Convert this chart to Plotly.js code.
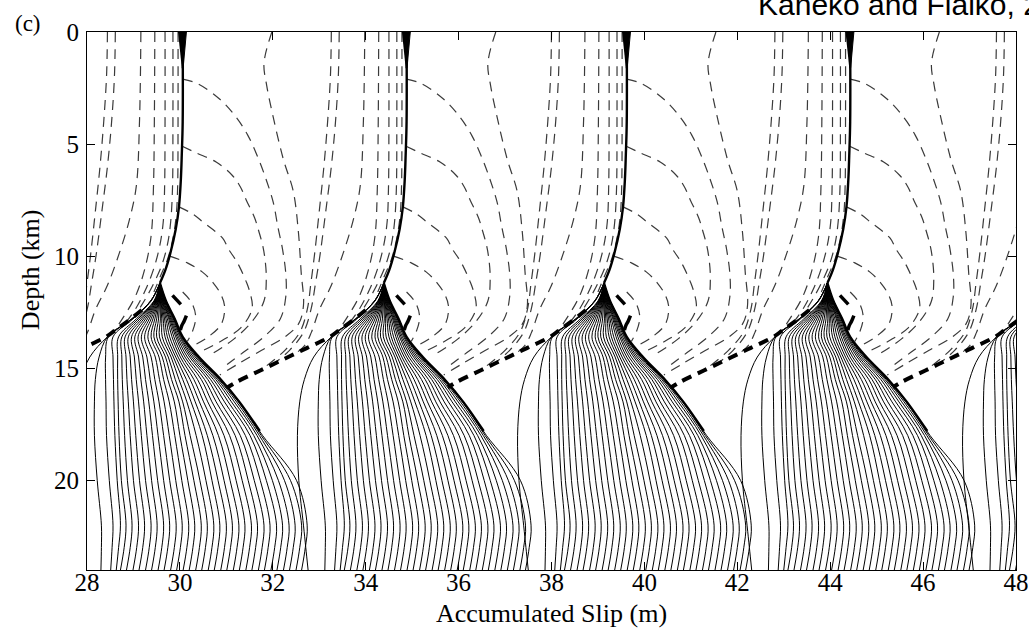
<!DOCTYPE html>
<html><head><meta charset="utf-8">
<script src="https://cdn.plot.ly/plotly-3.0.1.min.js"></script>
<style>html,body{margin:0;padding:0;background:#fff}#chart{width:1029px;height:639px}</style>
</head><body><div id="chart"></div>
<script>
// ---------- data ----------
// surface slip reached by each earthquake (m)
const eqSurfaceSlip = [25.25, 30.06, 34.88, 39.62, 44.43, 49.20];

// interseismic profiles (solid): slip relative to the preceding earthquake's surface slip, per depth
const fanDepthKm = [11.2, 12.0, 12.8, 13.6, 14.5, 15.5, 16.5, 18.0, 20.0, 22.0, 23.0, 24.0];
const fanSlipAt11_2 = [-0.49,-0.49,-0.49,-0.49,-0.49,-0.49,-0.49,-0.49,-0.49,-0.49,-0.49,-0.49,-0.49,-0.49,-0.49,-0.49,-0.49,-0.49,-0.49,-0.49,-0.49,-0.49,-0.49,-0.49,-0.49,-0.49,-0.49,-0.49,-0.49,-0.49,-0.49,-0.49,-0.49,-0.49];
const fanSlipAt12_0 = [-0.69,-0.69,-0.69,-0.68,-0.62,-0.61,-0.60,-0.59,-0.58,-0.57,-0.56,-0.55,-0.54,-0.53,-0.52,-0.51,-0.50,-0.49,-0.48,-0.47,-0.46,-0.45,-0.44,-0.43,-0.42,-0.41,-0.40,-0.39,-0.38,-0.37,-0.37,-0.36,-0.36,-0.36];
const fanSlipAt12_8 = [-1.10,-1.10,-1.09,-1.07,-1.00,-0.96,-0.92,-0.88,-0.84,-0.80,-0.76,-0.72,-0.68,-0.64,-0.60,-0.56,-0.52,-0.48,-0.45,-0.42,-0.39,-0.36,-0.33,-0.30,-0.28,-0.26,-0.24,-0.22,-0.20,-0.19,-0.18,-0.17,-0.17,-0.17];
const fanSlipAt13_6 = [-1.62,-1.62,-1.60,-1.50,-1.38,-1.31,-1.24,-1.17,-1.10,-1.03,-0.96,-0.89,-0.82,-0.75,-0.68,-0.62,-0.56,-0.50,-0.44,-0.38,-0.33,-0.28,-0.23,-0.19,-0.15,-0.12,-0.09,-0.06,-0.04,-0.02,-0.01,0.00,0.00,0.00];
const fanSlipAt14_5 = [-2.00,-1.80,-1.66,-1.50,-1.40,-1.31,-1.22,-1.13,-1.04,-0.95,-0.86,-0.77,-0.68,-0.59,-0.51,-0.44,-0.37,-0.31,-0.25,-0.20,-0.15,-0.10,-0.05,0.00,0.05,0.10,0.15,0.19,0.23,0.27,0.30,0.32,0.34,0.35];
const fanSlipAt15_5 = [-2.20,-1.88,-1.66,-1.49,-1.40,-1.30,-1.20,-1.10,-1.00,-0.90,-0.80,-0.70,-0.60,-0.50,-0.41,-0.32,-0.24,-0.16,-0.08,0.00,0.08,0.16,0.24,0.32,0.40,0.47,0.54,0.60,0.66,0.71,0.75,0.78,0.80,0.82];
const fanSlipAt16_5 = [-2.30,-1.90,-1.65,-1.48,-1.39,-1.28,-1.17,-1.06,-0.95,-0.84,-0.73,-0.62,-0.51,-0.40,-0.29,-0.18,-0.08,0.00,0.09,0.18,0.27,0.36,0.45,0.54,0.63,0.72,0.81,0.90,0.98,1.05,1.11,1.16,1.20,1.22];
const fanSlipAt18_0 = [-2.35,-1.90,-1.64,-1.46,-1.37,-1.25,-1.13,-1.01,-0.89,-0.77,-0.65,-0.53,-0.41,-0.29,-0.17,-0.06,0.05,0.16,0.29,0.42,0.53,0.65,0.77,0.89,1.01,1.13,1.24,1.35,1.45,1.53,1.60,1.65,1.69,1.72];
const fanSlipAt20_0 = [-2.32,-1.84,-1.58,-1.41,-1.32,-1.19,-1.06,-0.93,-0.80,-0.67,-0.54,-0.41,-0.28,-0.15,-0.02,0.11,0.24,0.37,0.50,0.63,0.76,0.89,1.02,1.15,1.28,1.41,1.54,1.67,1.80,1.93,2.06,2.19,2.32,2.45];
const fanSlipAt22_0 = [-2.22,-1.75,-1.50,-1.34,-1.22,-1.09,-0.95,-0.82,-0.68,-0.55,-0.41,-0.28,-0.14,-0.01,0.13,0.26,0.40,0.53,0.67,0.80,0.94,1.07,1.21,1.34,1.48,1.61,1.75,1.88,2.02,2.15,2.29,2.42,2.56,2.68];
const fanSlipAt23_0 = [-2.17,-1.75,-1.52,-1.38,-1.26,-1.13,-0.99,-0.86,-0.72,-0.59,-0.45,-0.32,-0.18,-0.05,0.09,0.22,0.36,0.49,0.63,0.76,0.90,1.03,1.17,1.30,1.44,1.57,1.71,1.84,1.98,2.11,2.25,2.38,2.52,2.64];
const fanSlipAt24_0 = [-2.12,-1.76,-1.55,-1.43,-1.34,-1.21,-1.07,-0.94,-0.80,-0.67,-0.53,-0.40,-0.26,-0.13,0.01,0.14,0.28,0.41,0.55,0.68,0.82,0.95,1.09,1.22,1.36,1.49,1.63,1.76,1.90,2.03,2.17,2.30,2.44,2.56];

// locked shallow profile (thick solid), relative to surface slip
const lockedDepth = [0, 4, 5.5, 6.6, 7.8, 8.8, 9.9, 10.6, 11.2];
const lockedSlip  = [0, 0, -0.02, -0.04, -0.08, -0.15, -0.27, -0.37, -0.49];
const wedgeDepth = [0, 0, 1.6, 1.6];
const wedgeSlip  = [-0.10, 0.08, 0.01, -0.02];
// bold edge of the interseismic fan
const edgeDepth = [11.2, 12.0, 12.8, 13.6, 14.5, 15.5, 16.5, 17.8];
const edgeSlip  = [-0.49, -0.36, -0.17, 0.00, 0.35, 0.82, 1.22, 1.66];

// coseismic profiles (dashed). Early arcs: relative to slip before the event
const arc1Depth = [2.1, 2.3, 3.0, 3.8, 4.6, 5.6, 6.6, 7.6, 8.7, 9.7, 10.8, 11.8, 12.8, 13.6, 14.3, 15.0];
const arc1Slip  = [0.0, 0.32, 0.80, 1.15, 1.40, 1.62, 1.80, 1.95, 2.05, 2.15, 2.22, 2.22, 2.10, 1.75, 1.30, 0.85];
const arc2Depth = [5.1, 5.4, 5.8, 6.4, 6.9, 7.5, 8.3, 8.9, 9.5, 10.1, 11.0, 12.0, 12.9, 13.7, 14.4];
const arc2Slip  = [-0.01, 0.30, 0.72, 1.07, 1.24, 1.37, 1.55, 1.64, 1.72, 1.77, 1.80, 1.75, 1.50, 1.10, 0.60];
const arc3Depth = [7.8, 8.1, 8.5, 9.2, 9.7, 10.1, 10.5, 11.2, 11.7, 12.2, 12.6, 13.2, 13.7, 14.2];
const arc3Slip  = [-0.08, 0.20, 0.45, 0.86, 0.99, 1.12, 1.23, 1.38, 1.46, 1.50, 1.45, 1.25, 0.90, 0.45];
const arc4Depth = [10.0, 10.3, 10.7, 11.2, 11.7, 12.2, 13.0, 13.6, 14.0];
const arc4Slip  = [-0.28, 0.10, 0.42, 0.66, 0.82, 0.90, 0.84, 0.55, 0.22];
const breakDepth = [0, 1.4, 2.4, 3.9, 5.7, 7.1, 8.9, 10.7, 12.2, 13.0, 13.6, 14.2, 14.8, 15.3];
const breakSlip  = [1.92, 1.75, 1.81, 1.96, 2.17, 2.38, 2.49, 2.55, 2.60, 2.50, 2.20, 1.70, 1.20, 0.80];
const nucDepth = [11.6, 12.1, 12.7, 13.3, 13.8];
const nucSlip  = [0.00, 0.20, 0.28, 0.22, 0.10];
// late coseismic profiles: relative to slip after the event
const late1Depth = [0, 2, 4, 6, 8, 9.9, 11.2, 12.4, 13.4, 14.2, 14.9];
const late1Slip  = [-1.62, -1.64, -1.70, -1.78, -1.88, -1.98, -2.06, -2.14, -2.30, -2.62, -3.02];
const late2Slip  = [-1.45, -1.47, -1.53, -1.62, -1.74, -1.86, -1.96, -2.06, -2.22, -2.52, -2.92];
const late3Depth = [0, 4, 6.9, 8.4, 9.9, 11.3, 12.4, 13.4, 14.0, 14.5];
const late3Slip  = [-0.90, -0.93, -1.00, -1.15, -1.37, -1.62, -1.88, -2.05, -2.20, -2.50];
const late4Depth = [0, 4, 7, 9.1, 10.6, 11.8, 12.8, 13.4];
const late4Slip  = [-0.60, -0.61, -0.63, -0.68, -0.82, -1.02, -1.30, -1.50];
const late5Depth = [0, 4, 7, 8.5, 9.6, 10.6, 11.5, 12.3, 12.9];
const late5Slip  = [-0.38, -0.38, -0.39, -0.42, -0.50, -0.63, -0.80, -1.00, -1.20];
const late6Depth = [0, 4, 7, 8.5, 9.5, 10.4, 11.2, 11.9, 12.5];
const late6Slip  = [-0.21, -0.21, -0.22, -0.26, -0.33, -0.45, -0.62, -0.80, -0.98];
const late7Depth = [0, 4, 7, 8.2, 9.2, 10.1, 10.9, 11.6];
const late7Slip  = [-0.10, -0.10, -0.11, -0.14, -0.21, -0.32, -0.48, -0.62];
// final coseismic profile at the base of the rupture (thick dashed)
const baseDepth = [12.4, 12.9, 13.3, 13.6, 14.1, 14.6, 15.1, 15.6, 15.85];
const baseSlip  = [-0.88, -1.18, -1.45, -1.65, -2.15, -2.65, -3.15, -3.65, -3.85];
// nucleation blobs (thick short marks), relative to slip before the event
const blob1Depth = [11.75, 11.95, 12.15];
const blob1Slip  = [-0.22, -0.13, -0.04];
const blob2Depth = [12.65, 12.9, 13.1, 13.3];
const blob2Slip  = [0.08, 0.03, -0.02, -0.05];

// ---------- build traces ----------
function push(xs, ys, rel, depth, off) {
  for (let i = 0; i < rel.length; i++) { xs.push(rel[i] + off); ys.push(depth[i]); }
  xs.push(null); ys.push(null);
}
const fanRows = [fanSlipAt11_2, fanSlipAt12_0, fanSlipAt12_8, fanSlipAt13_6, fanSlipAt14_5, fanSlipAt15_5,
                 fanSlipAt16_5, fanSlipAt18_0, fanSlipAt20_0, fanSlipAt22_0, fanSlipAt23_0, fanSlipAt24_0];
const fx = [], fy = [], ex = [], ey = [], lx = [], ly = [];
const dx = [], dy = [], bx = [], by = [], nx = [], ny = [];
eqSurfaceSlip.forEach(S => {
  for (let j = 0; j < fanSlipAt24_0.length; j++) push(fx, fy, fanRows.map(r => r[j]), fanDepthKm, S);
  push(ex, ey, edgeSlip, edgeDepth, S);
  push(lx, ly, lockedSlip, lockedDepth, S);
  push(nx, ny, blob1Slip, blob1Depth, S);
  push(nx, ny, blob2Slip, blob2Depth, S);
  push(dx, dy, nucSlip, nucDepth, S);
});
for (let k = 1; k < eqSurfaceSlip.length; k++) {
  const Sp = eqSurfaceSlip[k - 1], Sn = eqSurfaceSlip[k];
  push(dx, dy, arc1Slip, arc1Depth, Sp);
  push(dx, dy, arc2Slip, arc2Depth, Sp);
  push(dx, dy, arc3Slip, arc3Depth, Sp);
  push(dx, dy, arc4Slip, arc4Depth, Sp);
  push(dx, dy, breakSlip, breakDepth, Sp);
  push(dx, dy, late1Slip, late1Depth, Sn);
  push(dx, dy, late2Slip, late1Depth, Sn);
  push(dx, dy, late3Slip, late3Depth, Sn);
  push(dx, dy, late4Slip, late4Depth, Sn);
  push(dx, dy, late5Slip, late5Depth, Sn);
  push(dx, dy, late6Slip, late6Depth, Sn);
  push(dx, dy, late7Slip, late7Depth, Sn);
  push(bx, by, baseSlip, baseDepth, Sn);
}
const traces = [
  {x: dx, y: dy, mode: 'lines', line: {color: '#3a3a3a', width: 1.2, dash: '10px,7px', shape: 'spline'}, hoverinfo: 'skip'},
  {x: fx, y: fy, mode: 'lines', line: {color: '#000', width: 1, shape: 'spline'}, hoverinfo: 'skip'},
  {x: ex, y: ey, mode: 'lines', line: {color: '#000', width: 2.4, shape: 'spline'}, hoverinfo: 'skip'},
  {x: lx, y: ly, mode: 'lines', line: {color: '#000', width: 2.4, shape: 'spline'}, hoverinfo: 'skip'},
  {x: bx, y: by, mode: 'lines', line: {color: '#000', width: 4, dash: '10px,7px', shape: 'spline'}, hoverinfo: 'skip'},
  {x: nx, y: ny, mode: 'lines', line: {color: '#000', width: 3.5, shape: 'spline'}, hoverinfo: 'skip'}
];
eqSurfaceSlip.forEach(S => {
  traces.push({x: wedgeSlip.map(v => v + S), y: wedgeDepth, mode: 'lines', fill: 'toself',
    fillcolor: '#000', line: {color: '#000', width: 1}, hoverinfo: 'skip'});
});

const serif = "'Liberation Serif', 'Times New Roman', serif";
const axisCommon = {
  showgrid: false, zeroline: false, showline: true, linecolor: '#000', linewidth: 1,
  mirror: 'ticks', ticks: 'inside', ticklen: 8, tickwidth: 1, tickcolor: '#000',
  tickfont: {family: serif, size: 25, color: '#000'}
};
const layout = {
  width: 1029, height: 639, showlegend: false,
  paper_bgcolor: '#fff', plot_bgcolor: '#fff',
  margin: {l: 87, r: 13, t: 32, b: 69},
  xaxis: Object.assign({}, axisCommon, {range: [28, 48], tickmode: 'linear', tick0: 28, dtick: 2, ticklabelstandoff: -10}),
  yaxis: Object.assign({}, axisCommon, {range: [24, 0], tickvals: [0, 5, 10, 15, 20], ticklabelstandoff: 2}),
  annotations: [
    {text: '(c)', xref: 'paper', yref: 'paper', x: -0.0635, y: 1.0167, xanchor: 'center', yanchor: 'middle',
     showarrow: false, font: {family: serif, size: 23, color: '#000'}},
    {text: 'Kaneko and Fialko, 2011', xref: 'paper', yref: 'paper', x: 0.7201, y: 1.0176, xanchor: 'left', yanchor: 'bottom',
     showarrow: false, font: {family: "'Liberation Sans', Arial, sans-serif", size: 30, color: '#000'}},
    {text: 'Depth (km)', xref: 'paper', yref: 'paper', x: -0.061, y: 0.558, xanchor: 'center', yanchor: 'middle',
     textangle: -90, showarrow: false, font: {family: serif, size: 26, color: '#000'}},
    {text: 'Accumulated Slip (m)', xref: 'paper', yref: 'paper', x: 0.5, y: -0.08, xanchor: 'center', yanchor: 'middle',
     showarrow: false, font: {family: serif, size: 26, color: '#000'}}
  ]
};
Plotly.newPlot('chart', traces, layout, {staticPlot: true, displayModeBar: false});
</script>
</body></html>
